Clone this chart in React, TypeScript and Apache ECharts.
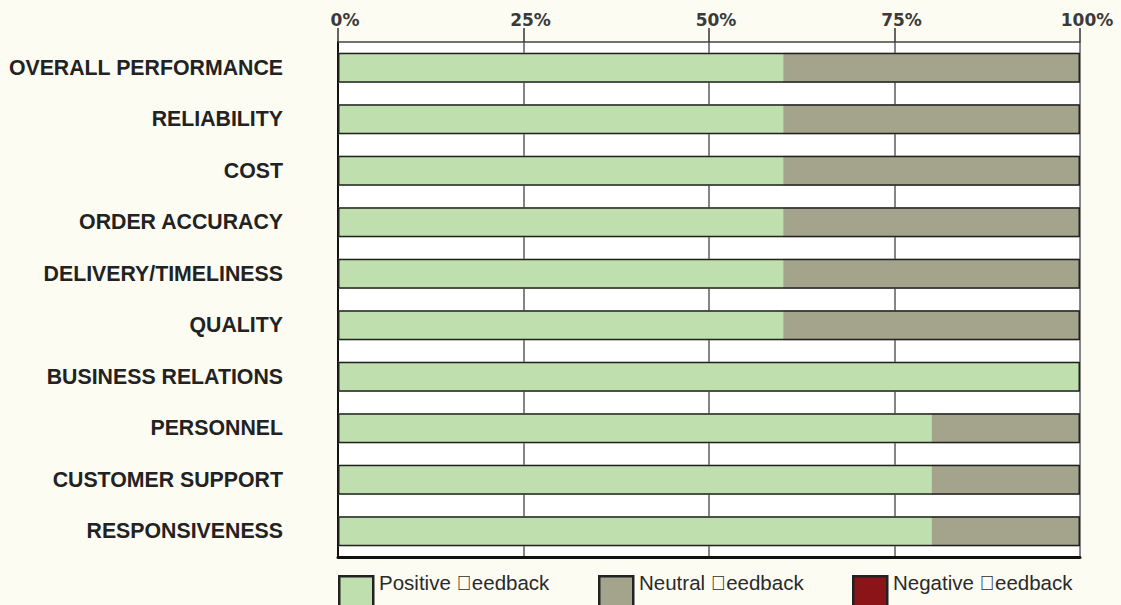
import React, { useEffect, useRef } from "react";
import * as echarts from "echarts";

const categories = [
  "OVERALL PERFORMANCE",
  "RELIABILITY",
  "COST",
  "ORDER ACCURACY",
  "DELIVERY/TIMELINESS",
  "QUALITY",
  "BUSINESS RELATIONS",
  "PERSONNEL",
  "CUSTOMER SUPPORT",
  "RESPONSIVENESS",
];
const positive = [60, 60, 60, 60, 60, 60, 100, 80, 80, 80];
const neutral = [40, 40, 40, 40, 40, 40, 0, 20, 20, 20];
const negative = [0, 0, 0, 0, 0, 0, 0, 0, 0, 0];
const totals = categories.map((_, i) => positive[i] + neutral[i] + negative[i]);
const seriesNames = ["Positive \uE000eedback", "Neutral \uE000eedback", "Negative \uE000eedback"];
const seriesColors = ["#c0dfae", "#a4a38c", "#8b1418"];
const legendX = [338, 598, 852];

export default function App() {
  const ref = useRef<HTMLDivElement>(null);
  useEffect(() => {
    const chart = echarts.init(ref.current!, null, { renderer: "svg" });
    const legendGraphics: any[] = [];
    seriesNames.forEach((name, i) => {
      legendGraphics.push({
        type: "rect",
        left: legendX[i],
        top: 575,
        shape: { width: 34, height: 40 },
        style: { fill: seriesColors[i], stroke: "#222", lineWidth: 2.5 },
        silent: true,
      });
      legendGraphics.push({
        type: "text",
        x: legendX[i] + 41,
        y: 582,
        style: {
          text: name,
          fontSize: 20.5,
          fontFamily: "Liberation Sans, Arial, sans-serif",
          fill: "#2a2a2a",
          verticalAlign: "middle",
        },
        silent: true,
      });
    });
    chart.setOption({
      animation: false,
      backgroundColor: "#fcfcf3",
      textStyle: { fontFamily: "Liberation Sans, Arial, sans-serif" },
      grid: {
        left: 338,
        right: 41,
        top: 42,
        bottom: 48,
        show: true,
        backgroundColor: "#ffffff",
        borderWidth: 0,
        outerBoundsMode: "none",
        containLabel: false,
      },
      graphic: legendGraphics,
      xAxis: [
        {
          type: "value",
          position: "top",
          min: 0,
          max: 100,
          interval: 25,
          axisLine: { show: true, lineStyle: { color: "#444", width: 1.5 } },
          axisTick: { show: true, length: 14, lineStyle: { color: "#333", width: 1.5 } },
          axisLabel: {
            formatter: "{value}%",
            align: "center",
            margin: 14,
            padding: [0, 0, 0, 14],
            fontFamily: "DejaVu Sans, Verdana, sans-serif",
            fontSize: 17,
            fontWeight: "bold",
            color: "#3a3a3a",
          },
          splitLine: { show: true, lineStyle: { color: "#858585", width: 2 } },
        },
        {
          type: "value",
          position: "bottom",
          min: 0,
          max: 100,
          axisLine: { show: true, lineStyle: { color: "#111", width: 3 } },
          axisTick: { show: false },
          axisLabel: { show: false },
          splitLine: { show: false },
        },
      ],
      yAxis: {
        type: "category",
        inverse: true,
        data: categories,
        axisLine: { show: true, lineStyle: { color: "#111", width: 2 } },
        axisTick: { show: false },
        axisLabel: {
          margin: 55,
          fontSize: 21.3,
          fontWeight: "bold",
          color: "#222",
          padding: [4, 0, 0, 0],
        },
      },
      series: [
        {
          name: seriesNames[0],
          type: "bar",
          stack: "total",
          barWidth: 30,
          data: positive,
          itemStyle: { color: seriesColors[0] },
        },
        {
          name: seriesNames[1],
          type: "bar",
          stack: "total",
          barWidth: 30,
          data: neutral,
          itemStyle: { color: seriesColors[1] },
        },
        {
          name: seriesNames[2],
          type: "bar",
          stack: "total",
          barWidth: 30,
          data: negative,
          itemStyle: { color: seriesColors[2] },
        },
        {
          name: "outline",
          type: "bar",
          barWidth: 30,
          barGap: "-100%",
          data: totals,
          silent: true,
          itemStyle: { color: "rgba(0,0,0,0)", borderColor: "#222", borderWidth: 1.5 },
          z: 3,
        },
      ],
    });
    return () => chart.dispose();
  }, []);
  return (
    <div
      ref={ref}
      style={{ position: "fixed", left: 0, top: 0, width: 1121, height: 605 }}
    />
  );
}
